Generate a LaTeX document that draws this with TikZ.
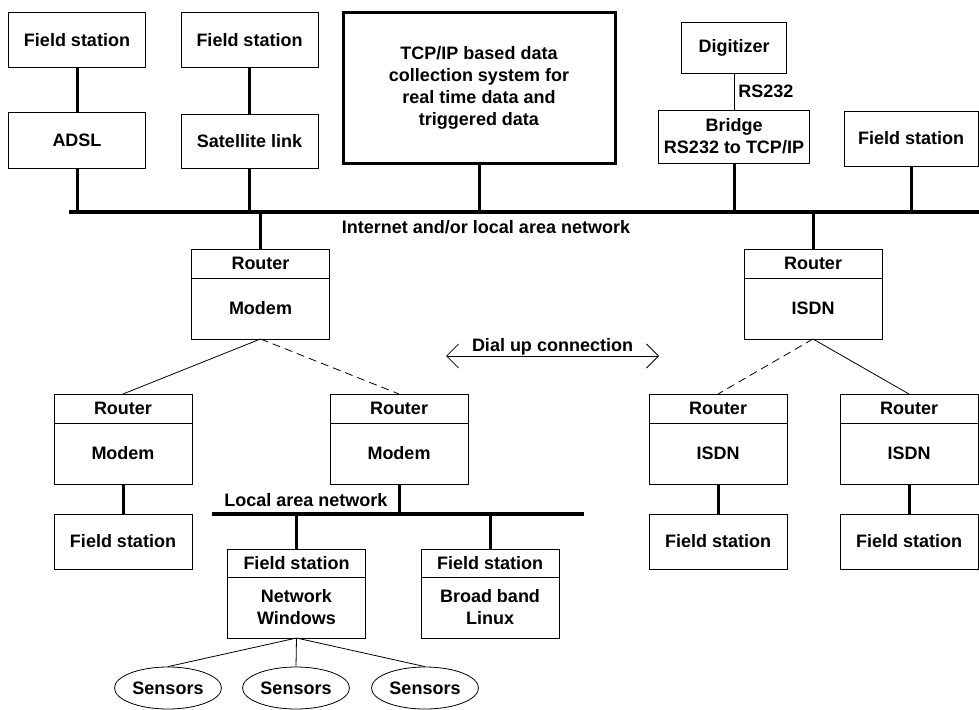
\documentclass[tikz,border=0pt]{standalone}
\usepackage{fontspec}
\setmainfont{Liberation Sans}
\usetikzlibrary{positioning, shapes, arrows.meta}

\begin{document}
\begin{tikzpicture}[x=1pt, y=-1pt,
      every node/.style={font=\bfseries\fontsize{18}{22}\selectfont},
      unit/.style={rectangle, draw, line width=1pt, outer sep=0pt, inner sep=0pt, minimum width=138,
      minimum height=55, align=center},
      head/.style={unit, minimum height=29},
      body/.style={unit, minimum height=61},
      sensor/.style={ellipse, draw, line width=0.8pt, inner sep=0pt, minimum width=107, minimum height=42},
      drop/.style={line width=3pt},
      bus/.style={line width=4pt},
      link/.style={line width=0.8pt},
      dial/.style={link, dash pattern=on 8pt off 5pt},
      barb/.style={{Straight Barb[length=12pt, width=24pt]}-{Straight Barb[length=12pt, width=24pt]}}
    ]
      \useasboundingbox (0,0) rectangle (979,709);

      \node[unit, minimum width=137, minimum height=54] (fs1) at (77,40) {Field station};
      \node[unit, minimum width=137, minimum height=56] (adsl) at (77,140) {ADSL};
      \node[unit, minimum width=137, minimum height=54] (fs2) at (249.5,40) {Field station};
      \node[unit, minimum width=137, minimum height=54] (sat) at (249.5,141) {Satellite link};
      \node[unit, line width=3pt, minimum width=272, minimum height=150] (tcp) at (479,88)
        {TCP/IP based data\\collection system for\\real time data and\\triggered data};
      \node[unit, minimum width=105, minimum height=50] (dig) at (734,48) {Digitizer};
      \node[unit, minimum width=151, minimum height=53] (bridge) at (734,136.5) {Bridge\\RS232 to TCP/IP};
      \node[unit, minimum width=134, minimum height=55] (fs3) at (911,138.5) {Field station};

      \draw[link] (dig) -- node[right, inner sep=4pt] (rs) {RS232} (bridge);
      \draw[drop] (fs1) -- (adsl);
      \draw[drop] (fs2) -- (sat);

      \coordinate (busL) at (69,212);
      \coordinate (busR) at (979,212);
      \draw[bus] (busL) -- (busR);
      \node[anchor=base] (netlbl) at (486,233) {Internet and/or local area network};
      \foreach \n in {adsl, sat, tcp, bridge, fs3}
        \draw[drop] (\n.south) -- (\n.south |- busL);

      \node[head] (rmh) at (260.5,263.5) {Router};
      \node[body, below=0pt of rmh] (rm) {Modem};
      \node[head] (rih) at (813,263.5) {Router};
      \node[body, below=0pt of rih] (ri) {ISDN};
      \draw[drop] (rmh) -- (rmh |- busL);
      \draw[drop] (rih) -- (rih |- busL);

      \node[head] (m1h) at (123,408.5) {Router};
      \node[body, below=0pt of m1h] (m1) {Modem};
      \node[head] (m2h) at (399,408.5) {Router};
      \node[body, below=0pt of m2h] (m2) {Modem};
      \node[head] (i1h) at (718,408.5) {Router};
      \node[body, below=0pt of i1h] (i1) {ISDN};
      \node[head] (i2h) at (909,408.5) {Router};
      \node[body, below=0pt of i2h] (i2) {ISDN};

      \draw[link] (rm.south) -- (m1h.north);
      \draw[dial] (rm.south) -- (m2h.north);
      \draw[dial] (ri.south) -- (i1h.north);
      \draw[link] (ri.south) -- (i2h.north);

      \coordinate (dialL) at (446,356);
      \coordinate (dialR) at (659,356);
      \draw[link, barb] (dialL) -- node[above, inner sep=0pt] (dialtxt) {Dial up connection} (dialR);

      \node[unit, below=30pt of m1] (fs4) {Field station};
      \node[unit, below=30pt of i1] (fs5) {Field station};
      \node[unit, below=30pt of i2] (fs6) {Field station};
      \foreach \a/\b in {m1/fs4, i1/fs5, i2/fs6}
        \draw[drop] (\a) -- (\b);

      \coordinate (lanL) at (212,514);
      \coordinate (lanR) at (584,514);
      \draw[bus] (lanL) -- (lanR);
      \node[anchor=base east] (lanlbl) at (391,506) {Local area network};
      \draw[drop] (m2) -- (m2 |- lanL);

      \node[head, minimum height=28] (wh) at (296.5,563) {Field station};
      \node[body, below=0pt of wh] (win) {Network\\Windows};
      \node[head, minimum height=28] (lh) at (490,563) {Field station};
      \node[body, below=0pt of lh] (lin) {Broad band\\Linux};
      \draw[drop] (wh) -- (wh |- lanL);
      \draw[drop] (lh) -- (lh |- lanL);

      \node[sensor] (s1) at (168,688) {Sensors};
      \node[sensor] (s2) at (296,688) {Sensors};
      \node[sensor] (s3) at (425,688) {Sensors};
      \foreach \s in {s1, s2, s3}
        \draw[link] (win.south) -- (\s.north);
    \end{tikzpicture}
\end{document}
